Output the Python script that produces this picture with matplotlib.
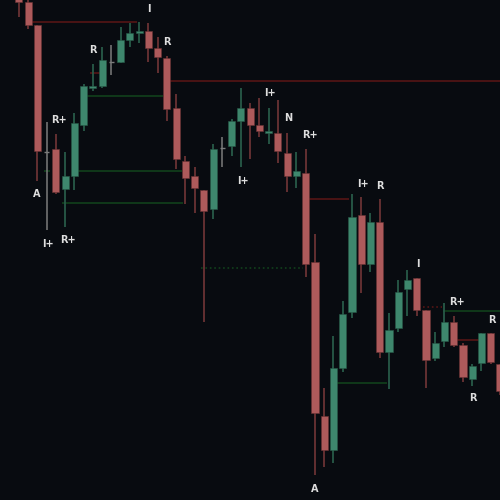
import numpy as np
import matplotlib
matplotlib.use('Agg')
import matplotlib.pyplot as plt

#### candle data (price units) ####
opens = [508, 498, 475, 348, 351, 311, 324, 375, 412, 414, 438, 438, 460, 467, 469, 452, 442, 392,
         339, 324, 310, 291, 352, 354, 379, 392, 375, 367, 367, 347, 324, 327, 238, 84, 50, 132,
         188, 285, 236, 278, 148, 172, 211, 222, 190, 142, 159, 178, 155, 121, 137, 167, 136]
highs = [510, 500, 475, 378, 366, 348, 387, 416, 436, 453, 455, 473, 477, 478, 477, 463, 444, 406,
         344, 333, 310, 356, 363, 381, 412, 397, 402, 392, 400, 367, 348, 351, 266, 112, 164, 199,
         306, 303, 287, 301, 187, 220, 230, 222, 190, 168, 197, 184, 157, 136, 167, 167, 136]
lows = [483, 471, 319, 270, 306, 273, 310, 369, 409, 412, 425, 437, 453, 457, 438, 427, 379, 331,
        296, 287, 178, 281, 333, 344, 333, 341, 363, 356, 337, 308, 312, 223, 25, 33, 37, 128,
        182, 207, 228, 142, 111, 168, 184, 184, 112, 139, 153, 153, 118, 114, 129, 136, 105]
closes = [498, 475, 349, 348, 308, 324, 377, 414, 414, 440, 438, 460, 467, 469, 452, 443, 391, 341,
          322, 312, 289, 351, 352, 379, 392, 375, 369, 369, 349, 324, 329, 236, 87, 50, 132, 186,
          283, 236, 278, 148, 170, 208, 220, 190, 140, 157, 178, 155, 123, 134, 167, 138, 109]

#### levels: price, start, end, kind ####
lvl_price = [478, 419, 404, 329, 329, 297, 232, 301, 117, 193, 189, 160, 427]
lvl_start = [1.4, 15.8, 6.8, 5.7, 2.7, 4.6, 19.7, 30.7, 33.8, 43.7, 45.8, 46.9, 7.7]
lvl_end = [12.8, 52.5, 15.6, 17.6, 3.4, 17.7, 30.7, 35.7, 39.8, 45.7, 52.5, 49.7, 8.8]
lvl_kind = ['r', 'r', 'g', 'g', 'g', 'g', 'gd', 'r', 'g', 'rd', 'g', 'r', 'r']

#### labels ####
lab_text = ['A', 'I+', 'R+', 'R+', 'R', 'I', 'R', 'I+', 'N', 'R+', 'I+', 'I+', 'R', 'I', 'R+', 'R', 'R', 'A']
lab_x = [1.95, 3.1, 4.3, 5.3, 8.0, 14.05, 16.0, 27.1, 29.1, 31.5, 24.2, 37.2, 39.0, 43.1, 47.35, 51.1, 49.1, 32.0]
lab_y = [306, 256, 380, 260, 450, 491, 458, 407, 382, 365, 319, 316, 314, 236, 198, 180, 102, 11]

bg = '#080b10'
up_body, up_wick = '#3e876d', '#285a48'
dn_body, dn_wick = '#ad5a5b', '#6a3234'
doji_col = '#7c7c7c'

fig = plt.figure(figsize=(5, 5), dpi=100, facecolor=bg)
ax = fig.add_axes([0, 0, 1, 1])
ax.set_facecolor(bg)

idx = np.arange(len(opens))
o = np.array(opens, float)
c = np.array(closes, float)
h = np.array(highs, float)
l = np.array(lows, float)

### 水平线 ###
for p, s, e, k in zip(lvl_price, lvl_start, lvl_end, lvl_kind):
    col = '#561515' if k.startswith('r') else '#11401c'
    ls = ':' if k.endswith('d') else '-'
    ax.hlines(p, s, e, colors=col, linewidth=1.2, linestyles=ls, zorder=1)

### 蜡烛 ###
for i in idx:
    if o[i] == c[i]:
        ax.vlines(i, l[i], h[i], colors=doji_col, linewidth=1.1, zorder=2)
        ax.hlines(o[i], i - 0.3, i + 0.3, colors=doji_col, linewidth=1.0, zorder=3)
        continue
    up = c[i] > o[i]
    wc = up_wick if up else dn_wick
    bc = up_body if up else dn_body
    ax.vlines(i, l[i], h[i], colors=wc, linewidth=1.3, zorder=2)
    bot = min(o[i], c[i])
    hgt = max(abs(c[i] - o[i]), 2)
    ax.bar(i, hgt, bottom=bot, width=0.76, color=bc, edgecolor=wc, linewidth=0.4, zorder=3)

### 标签 ###
for t, x, y in zip(lab_text, lab_x, lab_y):
    ax.text(x, y, t, color='#dedede', fontsize=7, fontweight='semibold',
            ha='center', va='center', zorder=4)

ax.set_xlim(-2.05, 52.0)
ax.set_ylim(0, 500)
ax.axis('off')

fig.savefig('out.png', dpi=100, facecolor=bg)
